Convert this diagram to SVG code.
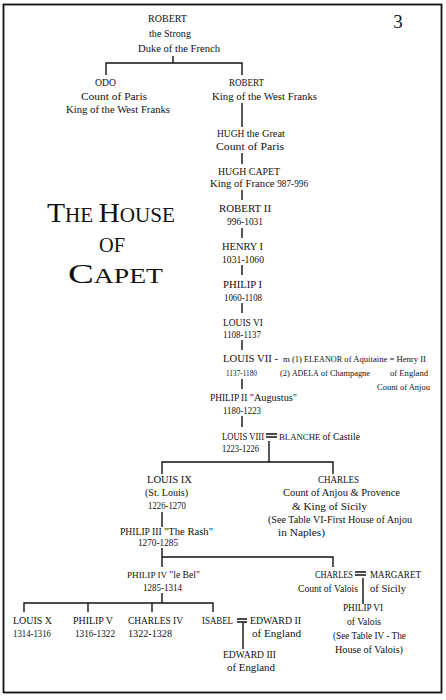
<svg xmlns="http://www.w3.org/2000/svg" width="446" height="700" viewBox="0 0 446 700">
<style>
text{font-family:"Liberation Serif","DejaVu Serif",serif;fill:#111;}
.n{font-size:10px;}
.t{font-size:11px;}
.d{font-size:9.5px;}
.s{font-size:9px;}
.sn{font-size:8.5px;}
.v{font-size:10px;}
.l{fill:none;stroke:#111;stroke-width:1.4;}
.ti{font-size:20px;}
.tb{font-size:28px;}
</style>
<rect x="0" y="0" width="446" height="700" fill="#fff"/>
<rect x="3.5" y="4.5" width="438" height="688" fill="none" stroke="#111" stroke-width="1.8"/>
<text x="398" y="28" text-anchor="middle" style="font-size:19px">3</text>
<g id="title">
<text x="47" y="222" textLength="128" lengthAdjust="spacingAndGlyphs"><tspan class="tb">T</tspan><tspan class="ti">HE </tspan><tspan class="tb">H</tspan><tspan class="ti">OUSE</tspan></text>
<text x="99" y="252" class="ti" textLength="26" lengthAdjust="spacingAndGlyphs">OF</text>
<text x="68" y="283" textLength="95" lengthAdjust="spacingAndGlyphs"><tspan class="tb">C</tspan><tspan class="ti">APET</tspan></text>
</g>
<g id="connectors">
<path class="l" d="M173,56 V63 M106,75 V63 H242 V75"/>
<path class="l" d="M242,103 V127"/>
<path class="l" d="M242,153 V164"/>
<path class="l" d="M242,190 V200"/>
<path class="l" d="M242,228 V238"/>
<path class="l" d="M242,265 V275"/>
<path class="l" d="M242,303 V313"/>
<path class="l" d="M242,340 V350"/>
<path class="l" d="M242,379 V389"/>
<path class="l" d="M242,416 V427"/>
<path class="l" d="M269,441 V462 M162,474 V462 H333 V474"/>
<path class="l" d="M162,512 V527"/>
<path class="l" d="M162,548 V567 M162,557 H333 V567"/>
<path class="l" d="M162,593 V603 M24,612 V603 H213 V612 M88,603 V612 M152,603 V612"/>
<path class="l" d="M243,622 V649"/>
<path class="l" d="M363,578 V604"/>
<path class="l" d="M266,434 H277 M266,437 H277 M237,619 H247 M237,622 H247 M355,572 H366 M355,575 H366"/>
</g>
<g id="robert-strong">
<text x="148" y="22" class="n" textLength="39" lengthAdjust="spacingAndGlyphs">ROBERT</text>
<text x="149" y="37" class="t" textLength="42" lengthAdjust="spacingAndGlyphs">the Strong</text>
<text x="138" y="52" class="t" textLength="82" lengthAdjust="spacingAndGlyphs">Duke of the French</text>
</g>
<g id="odo">
<text x="95" y="86" class="n" textLength="21" lengthAdjust="spacingAndGlyphs">ODO</text>
<text x="81" y="100" class="t" textLength="66" lengthAdjust="spacingAndGlyphs">Count of Paris</text>
<text x="66" y="113" class="t" textLength="104" lengthAdjust="spacingAndGlyphs">King of the West Franks</text>
</g>
<g id="robert-king">
<text x="229" y="86" class="n" textLength="35" lengthAdjust="spacingAndGlyphs">ROBERT</text>
<text x="212" y="100" class="t" textLength="105" lengthAdjust="spacingAndGlyphs">King of the West Franks</text>
</g>
<g id="hugh-great">
<text x="217" y="137" class="n" textLength="68" lengthAdjust="spacingAndGlyphs">HUGH <tspan class="t">the Great</tspan></text>
<text x="216" y="150" class="t" textLength="68" lengthAdjust="spacingAndGlyphs">Count of Paris</text>
</g>
<g id="hugh-capet">
<text x="218" y="175" class="n" textLength="62" lengthAdjust="spacingAndGlyphs">HUGH CAPET</text>
<text x="210" y="187" class="t" textLength="98" lengthAdjust="spacingAndGlyphs">King of France <tspan class="d">987-996</tspan></text>
</g>
<g id="robert-ii">
<text x="219" y="212" class="n" textLength="52" lengthAdjust="spacingAndGlyphs">ROBERT II</text>
<text x="227" y="225" class="d" textLength="36" lengthAdjust="spacingAndGlyphs">996-1031</text>
</g>
<g id="henry-i">
<text x="222" y="250" class="n" textLength="41" lengthAdjust="spacingAndGlyphs">HENRY I</text>
<text x="222" y="263" class="d" textLength="42" lengthAdjust="spacingAndGlyphs">1031-1060</text>
</g>
<g id="philip-i">
<text x="223" y="288" class="n" textLength="39" lengthAdjust="spacingAndGlyphs">PHILIP I</text>
<text x="224" y="301" class="d" textLength="38" lengthAdjust="spacingAndGlyphs">1060-1108</text>
</g>
<g id="louis-vi">
<text x="223" y="326" class="n" textLength="40" lengthAdjust="spacingAndGlyphs">LOUIS VI</text>
<text x="223" y="338" class="d" textLength="38" lengthAdjust="spacingAndGlyphs">1108-1137</text>
</g>
<g id="louis-vii">
<text x="223" y="362" class="n" textLength="55" lengthAdjust="spacingAndGlyphs">LOUIS VII -</text>
<text x="226" y="376" class="s" style="font-size:8px" textLength="31" lengthAdjust="spacingAndGlyphs">1137-1180</text>
</g>
<g id="eleanor">
<text x="283" y="362" class="s" textLength="143" lengthAdjust="spacingAndGlyphs">m (1) <tspan class="sn">ELEANOR</tspan> of Aquitaine = Henry II</text>
</g>
<g id="adela">
<text x="280" y="376" class="s" textLength="90" lengthAdjust="spacingAndGlyphs">(2) <tspan class="sn">ADELA</tspan> of Champagne</text>
</g>
<g id="henry-ii">
<text x="390" y="376" class="s" textLength="38" lengthAdjust="spacingAndGlyphs">of England</text>
<text x="377" y="390" class="s" textLength="53" lengthAdjust="spacingAndGlyphs">Count of Anjou</text>
</g>
<g id="philip-ii">
<text x="210" y="401" class="n" textLength="87" lengthAdjust="spacingAndGlyphs">PHILIP II <tspan class="t">"Augustus"</tspan></text>
<text x="223" y="414" class="d" textLength="38" lengthAdjust="spacingAndGlyphs">1180-1223</text>
</g>
<g id="louis-viii">
<text x="222" y="440" class="n" textLength="42" lengthAdjust="spacingAndGlyphs">LOUIS VIII</text>
<text x="222" y="452" class="d" textLength="37" lengthAdjust="spacingAndGlyphs">1223-1226</text>
</g>
<g id="blanche">
<text x="279" y="440" style="font-size:9px" textLength="81" lengthAdjust="spacingAndGlyphs">BLANCHE <tspan style="font-size:10px">of Castile</tspan></text>
</g>
<g id="louis-ix">
<text x="147" y="483" class="n" textLength="45" lengthAdjust="spacingAndGlyphs">LOUIS IX</text>
<text x="145" y="496" class="t" textLength="43" lengthAdjust="spacingAndGlyphs">(St. Louis)</text>
<text x="148" y="509" class="d" textLength="38" lengthAdjust="spacingAndGlyphs">1226-1270</text>
</g>
<g id="charles-anjou">
<text x="318" y="483" class="n" textLength="41" lengthAdjust="spacingAndGlyphs">CHARLES</text>
<text x="283" y="496" class="t" textLength="117" lengthAdjust="spacingAndGlyphs">Count of Anjou &amp; Provence</text>
<text x="292" y="510" class="t" textLength="75" lengthAdjust="spacingAndGlyphs">&amp; King of Sicily</text>
<text x="268" y="523" class="t" textLength="144" lengthAdjust="spacingAndGlyphs">(See Table VI-First House of Anjou</text>
<text x="278" y="536" class="t" textLength="47" lengthAdjust="spacingAndGlyphs">in Naples)</text>
</g>
<g id="philip-iii">
<text x="120" y="535" class="n" textLength="93" lengthAdjust="spacingAndGlyphs">PHILIP III <tspan class="t">"The Rash"</tspan></text>
<text x="138" y="546" class="d" textLength="40" lengthAdjust="spacingAndGlyphs">1270-1285</text>
</g>
<g id="philip-iv">
<text x="127" y="578" style="font-size:9px" textLength="73" lengthAdjust="spacingAndGlyphs">PHILIP IV <tspan style="font-size:9.5px">"le Bel"</tspan></text>
<text x="143" y="591" class="d" textLength="39" lengthAdjust="spacingAndGlyphs">1285-1314</text>
</g>
<g id="louis-x">
<text x="13" y="624" class="n" textLength="39" lengthAdjust="spacingAndGlyphs">LOUIS X</text>
<text x="13" y="637" class="d" textLength="38" lengthAdjust="spacingAndGlyphs">1314-1316</text>
</g>
<g id="philip-v">
<text x="73" y="624" class="n" textLength="40" lengthAdjust="spacingAndGlyphs">PHILIP V</text>
<text x="75" y="637" class="d" textLength="40" lengthAdjust="spacingAndGlyphs">1316-1322</text>
</g>
<g id="charles-iv">
<text x="128" y="624" class="n" textLength="55" lengthAdjust="spacingAndGlyphs">CHARLES IV</text>
<text x="128" y="637" class="d" textLength="44" lengthAdjust="spacingAndGlyphs">1322-1328</text>
</g>
<g id="isabel">
<text x="202" y="624" class="n" textLength="31" lengthAdjust="spacingAndGlyphs">ISABEL</text>
</g>
<g id="edward-ii">
<text x="250" y="624" class="n" textLength="51" lengthAdjust="spacingAndGlyphs">EDWARD II</text>
<text x="252" y="637" class="t" textLength="49" lengthAdjust="spacingAndGlyphs">of England</text>
</g>
<g id="edward-iii">
<text x="223" y="658" class="n" textLength="53" lengthAdjust="spacingAndGlyphs">EDWARD III</text>
<text x="227" y="671" class="t" textLength="48" lengthAdjust="spacingAndGlyphs">of England</text>
</g>
<g id="charles-valois">
<text x="315" y="578" class="n" textLength="38" lengthAdjust="spacingAndGlyphs">CHARLES</text>
<text x="298" y="592" class="v" textLength="60" lengthAdjust="spacingAndGlyphs">Count of Valois</text>
</g>
<g id="margaret">
<text x="370" y="578" class="n" textLength="51" lengthAdjust="spacingAndGlyphs">MARGARET</text>
<text x="370" y="592" class="t" textLength="36" lengthAdjust="spacingAndGlyphs">of Sicily</text>
</g>
<g id="philip-vi">
<text x="343" y="611" class="n" textLength="40" lengthAdjust="spacingAndGlyphs">PHILIP VI</text>
<text x="347" y="625" class="v" textLength="34" lengthAdjust="spacingAndGlyphs">of Valois</text>
<text x="333" y="639" class="v" textLength="73" lengthAdjust="spacingAndGlyphs">(See Table IV - The</text>
<text x="335" y="653" class="v" textLength="68" lengthAdjust="spacingAndGlyphs">House of Valois)</text>
</g>
</svg>
